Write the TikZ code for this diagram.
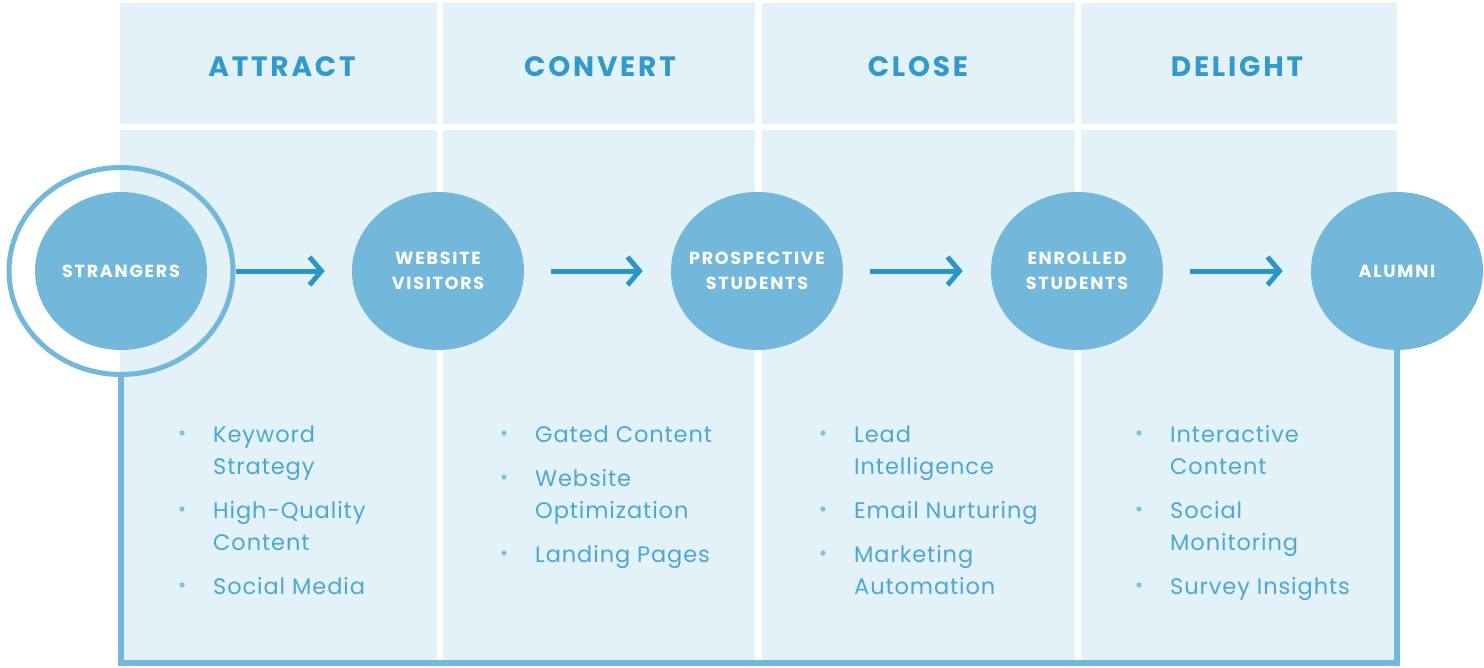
\documentclass[tikz,border=0pt]{standalone}
\usepackage{fontspec}
\setmainfont{Poppins}
\newfontfamily\headfont[LetterSpace=10]{Poppins}
\newfontfamily\circfont[LetterSpace=10]{Poppins}
\newfontfamily\bodyfont[LetterSpace=4]{Poppins}
\usetikzlibrary{shapes.geometric,arrows.meta}
\definecolor{panel}{HTML}{E3F1F8}
\definecolor{circ}{HTML}{73B8DA}
\definecolor{head}{HTML}{2F9ACB}
\definecolor{arrowc}{HTML}{2D96C9}
\definecolor{bodyt}{HTML}{4EA7D2}
\definecolor{bul}{HTML}{7FC0DE}
\tikzset{
  panelbox/.style={fill=panel,draw=none},
  stage/.style={ellipse,fill=circ,minimum width=172pt,minimum height=158pt,inner xsep=-40pt,inner ysep=-15pt,
    text=white,font=\circfont\bfseries\fontsize{17.5}{25}\selectfont,align=center},
  ringstyle/.style={ellipse,draw=circ,line width=5pt,minimum width=224pt,minimum height=207pt,inner sep=0pt},
  hd/.style={text=head,font=\headfont\bfseries\fontsize{28}{30}\selectfont},
  itm/.style={anchor=base west,text=bodyt,font=\bodyfont\fontsize{22.5}{32}\selectfont,align=left,inner sep=0pt},
  frame/.style={draw=circ,line width=5.5pt},
  arr/.style={draw=arrowc,line width=5pt,-{Straight Barb[length=12pt,width=28pt]}},
  bulletdot/.style={fill=bul}
}
\begin{document}
\begin{tikzpicture}[x=1pt,y=-1pt]
\useasboundingbox (0,0) rectangle (1484,667);
% header panels
\fill[panelbox] (120,3) rectangle (437,124);
\fill[panelbox] (443,3) rectangle (755,124);
\fill[panelbox] (762,3) rectangle (1075,124);
\fill[panelbox] (1081,3) rectangle (1397,124);
% body panels
\fill[panelbox] (120,130) rectangle (437,663);
\fill[panelbox] (443,130) rectangle (755,663);
\fill[panelbox] (762,130) rectangle (1075,663);
\fill[panelbox] (1081,130) rectangle (1397,663);
% headers
\node[hd] (h1) at (282,67) {ATTRACT};
\node[hd] (h2) at (600,67) {CONVERT};
\node[hd] (h3) at (918,67) {CLOSE};
\node[hd] (h4) at (1237,67) {DELIGHT};
% stages
\node[ringstyle] (ring) at (121,271) {};
\node[stage] (s1) at (121,271) {STRANGERS};
\node[stage] (s2) at (438,271) {WEBSITE\\VISITORS};
\node[stage] (s3) at (757,271) {PROSPECTIVE\\STUDENTS};
\node[stage] (s4) at (1077,271) {ENROLLED\\STUDENTS};
\node[stage] (s5) at (1397,271) {ALUMNI};
% frame
\coordinate (bot) at (760,663);
\draw[frame] (ring.south) |- (bot) -| (s5.south);
% arrows
\draw[arr] (ring.east) -- ([xshift=-27pt]s2.west);
\draw[arr] ([xshift=27pt]s2.east) -- ([xshift=-28pt]s3.west);
\draw[arr] ([xshift=27pt]s3.east) -- ([xshift=-28pt]s4.west);
\draw[arr] ([xshift=27pt]s4.east) -- ([xshift=-28pt]s5.west);
% items column 1 (base = last line)
\node[itm] (a1) at (213,474) {Keyword\\Strategy};
\node[itm] (a2) at (213,550) {High-Quality\\Content};
\node[itm] (a3) at (213,594) {Social Media};
% column 2
\node[itm] (b1) at (535,442) {Gated Content};
\node[itm] (b2) at (535,518) {Website\\Optimization};
\node[itm] (b3) at (535,562) {Landing Pages};
% column 3
\node[itm] (c1) at (854,474) {Lead\\Intelligence};
\node[itm] (c2) at (854,518) {Email Nurturing};
\node[itm] (c3) at (854,594) {Marketing\\Automation};
% column 4
\node[itm] (d1) at (1170,474) {Interactive\\Content};
\node[itm] (d2) at (1170,550) {Social\\Monitoring};
\node[itm] (d3) at (1170,594) {Survey Insights};
% bullets
\foreach \x/\y in {182/433,182/509,182/585,504/433,504/477,504/553,823/433,823/509,823/553,1139/433,1139/509,1139/585}
  \fill[bulletdot] (\x,\y) circle (2.6pt);
\end{tikzpicture}
\end{document}
